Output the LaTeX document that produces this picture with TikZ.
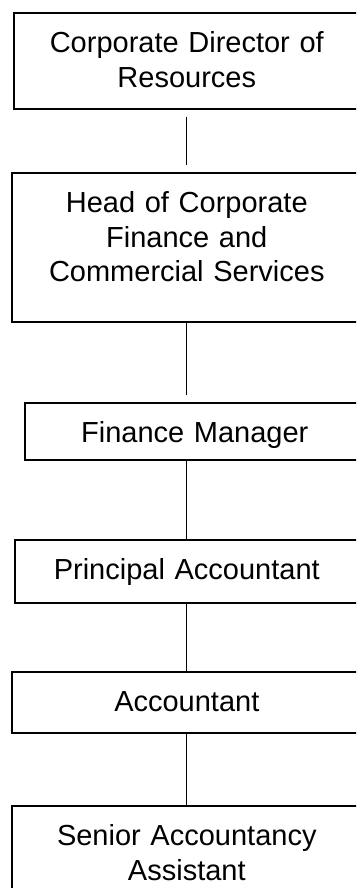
\documentclass[tikz,border=0pt]{standalone}
\usepackage{fontspec}
\setmainfont{Liberation Sans}
\tikzstyle{ruolo} = [rectangle, draw=black, line width=1.6pt, anchor=north west,
inner xsep=0pt, inner ysep=0pt, text height=40pt, align=center, font=\fontsize{29}{34.5}\selectfont]
\tikzstyle{linea} = [line width=1.2pt]

\begin{document}
\begin{tikzpicture}[x=1pt,y=-1pt]
						\useasboundingbox (0,0) rectangle (356,888);
						\clip (0,0) rectangle (356,888);
						\node (dir) at (13,12) [ruolo, text width=346pt, text depth=56pt] {Corporate Director of\\Resources};
						\node (head) at (11,172) [ruolo, text width=350pt, text depth=109pt] {Head of Corporate\\Finance and\\Commercial Services};
						\node (fm) at (24,402) [ruolo, text width=340pt, text depth=17pt] {Finance Manager};
						\node (pa) at (14,539) [ruolo, text width=344pt, text depth=23pt] {Principal Accountant};
						\node (acc) at (11,671) [ruolo, text width=350pt, text depth=21pt] {Accountant};
						\node (saa) at (11,805) [ruolo, text width=350pt, text depth=70pt] {Senior Accountancy\\Assistant};
						\draw[linea, shorten <=7pt, shorten >=7pt] (dir.south) -- (head.north);
						\draw[linea, shorten >=7pt] (head.south) -- (head.south |- fm.north);
						\draw[linea] (pa.north |- fm.south) -- (pa.north);
						\draw[linea] (pa) -- (acc);
						\draw[linea] (acc) -- (saa);
						
					\end{tikzpicture}
\end{document}
